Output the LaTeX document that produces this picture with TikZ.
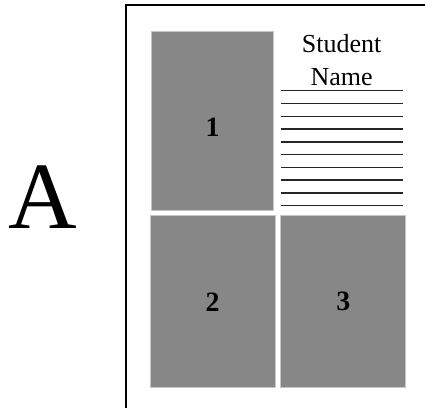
\documentclass[tikz,border=0pt]{standalone}
\usepackage{fontspec}
\setmainfont{Liberation Serif}
\usepackage{tikz}
\usetikzlibrary{positioning}
\definecolor{panelgray}{RGB}{135,135,135}
\tikzset{
  % Specifications for style of nodes:
  panel/.style = {
    rectangle,
    draw=gray!45,
    line width=0.8pt,
    fill=panelgray,
    inner sep=0pt,
    font=\fontsize{28}{32}\selectfont\bfseries
  },
  tall/.style = {
    panel,
    minimum width=121.6pt,
    minimum height=179pt
  },
  wide/.style = {
    panel,
    minimum width=125pt,
    minimum height=172pt
  },
  heading/.style = {
    font=\fontsize{26}{33}\selectfont,
    align=center,
    inner sep=0pt
  },
  ruleline/.style = {
    draw=black!85,
    line width=1.4pt
  },
  frame/.style = {
    draw=black,
    line width=2pt
  },
}
\begin{document}
\begin{tikzpicture}[x=1pt,y=-1pt]
    \useasboundingbox (0,0) rectangle (425,408);
    % Specification of nodes (position, etc.)
    \node[font=\fontsize{95}{100}\selectfont, inner sep=0pt] (letter) at (43,197.5) {A};
    \node[tall] (box1) at (212.5,121.2) {\raisebox{-15pt}[0pt][0pt]{1}};
    \node[wide, below=4.3pt of box1] (box2) {2};
    \node[wide, right=5pt of box2] (box3) {3};
    \node[heading, anchor=north] (title) at (341.7,34) {Student\\Name};
    % Frame of the sheet
    \coordinate (corner) at (126,5);
    \draw[frame] (corner |- 0,408) -- (corner) -- (425,5);
    % Lines for writing
    \foreach \i in {0,...,9}
      \draw[ruleline] (281,90.7+12.78*\i) -- ++(122.3,0);
  \end{tikzpicture}
\end{document}
